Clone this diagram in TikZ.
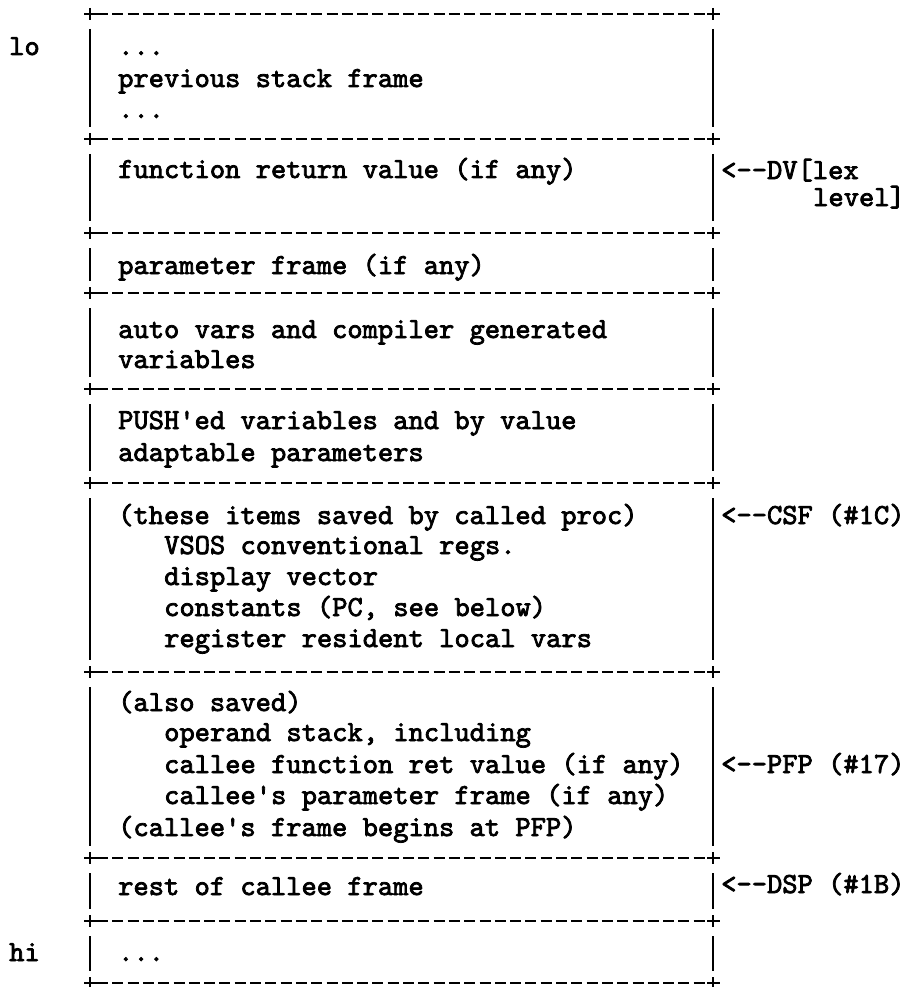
\documentclass[tikz,border=0pt]{standalone}
\usepackage{fontspec}
\newfontfamily\twr{lmmono10-regular}[Extension=.otf, FakeBold=2.6]
\begin{document}
\begin{tikzpicture}[x=1pt,y=-1pt,
  txt/.style={font=\twr\fontsize{29.1}{31}\selectfont, anchor=base west, inner sep=0pt},
  bord/.style={line width=2.2pt, dash pattern=on 11pt off 4.3pt},
  vline/.style={line width=2.2pt},
  plus/.style={line width=2.2pt}]
\useasboundingbox (0,0) rectangle (904,987);
\fill[white] (0,0) rectangle (904,987);
% horizontal borders with + corners
\foreach \y in {14,139,233,293,389,483,672,858,921,983} {
  \draw[bord] (97,\y) -- (707,\y);
  \draw[plus] (84,\y) -- (97,\y) (90,{\y-6}) -- (90,{\y+6});
  \draw[plus] (707,\y) -- (720,\y) (713,{\y-6}) -- (713,{\y+6});
}
% vertical sides
\foreach \a/\b in {14/139,139/233,233/293,293/389,389/483,483/672,672/858,858/921,921/983} {
  \draw[vline] (90,{\a+15}) -- (90,{\b-12});
  \draw[vline] (713,{\a+15}) -- (713,{\b-12});
}
% left labels
\node[txt] (lo) at (9,55) {lo};
\node[txt] (hi) at (9,961) {hi};
% block texts
\node[txt] (dotsA) at (118,55) {...};
\node[txt] (prev) at (118,87) {previous stack frame};
\node[txt] (dotsB) at (118,118) {...};
\node[txt] (fret) at (118,178) {function return value (if any)};
\node[txt] (param) at (118,274) {parameter frame (if any)};
\node[txt] (autoA) at (118,338) {auto vars and compiler generated};
\node[txt] (autoB) at (118,368) {variables};
\node[txt] (pushA) at (118,429) {PUSH\textquotesingle ed variables and by value};
\node[txt] (pushB) at (118,461) {adaptable parameters};
\node[txt] (savA) at (118,524) {(these items saved by called proc)};
\node[txt] (savB) at (164,554) {VSOS conventional regs.};
\node[txt] (savC) at (164,585) {display vector};
\node[txt] (savD) at (164,616) {constants (PC, see below)};
\node[txt] (savE) at (164,647) {register resident local vars};
\node[txt] (alsoA) at (118,711) {(also saved)};
\node[txt] (alsoB) at (164,741) {operand stack, including};
\node[txt] (alsoC) at (164,773) {callee function ret value (if any)};
\node[txt] (alsoD) at (164,804) {callee\textquotesingle s parameter frame (if any)};
\node[txt] (alsoE) at (118,836) {(callee\textquotesingle s frame begins at PFP)};
\node[txt] (rest) at (118,895) {rest of callee frame};
\node[txt] (dotsC) at (118,961) {...};
% right-hand pointers
\node[txt] (dv) at (721,179) {<\mbox{-}\mbox{-}DV[lex};
\node[txt] (lvl) at (813,206) {level]};
\node[txt] (csf) at (721,524) {<\mbox{-}\mbox{-}CSF (\#1C)};
\node[txt] (pfp) at (721,773) {<\mbox{-}\mbox{-}PFP (\#17)};
\node[txt] (dsp) at (721,893) {<\mbox{-}\mbox{-}DSP (\#1B)};
\end{tikzpicture}
\end{document}
